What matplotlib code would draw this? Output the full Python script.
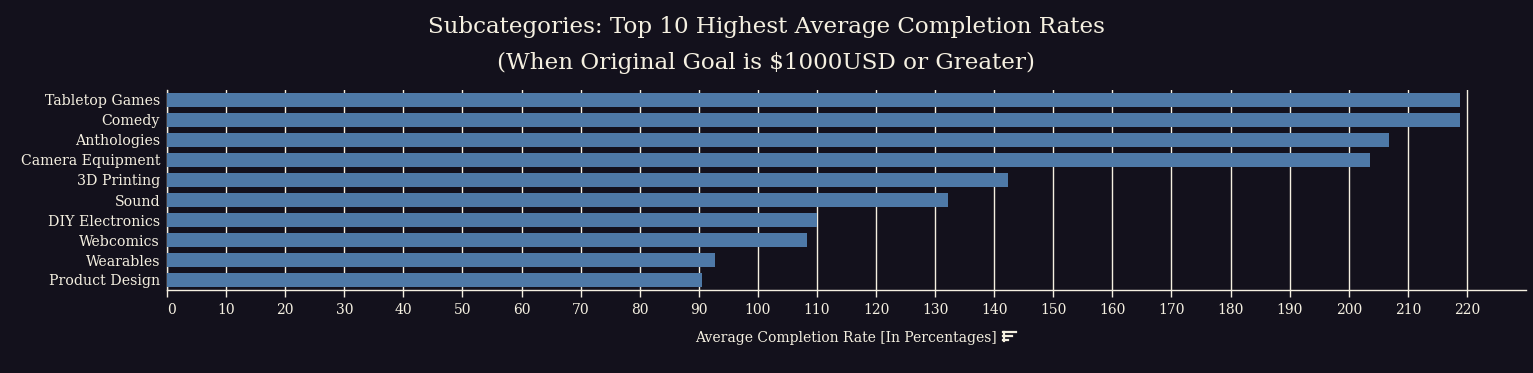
import matplotlib
matplotlib.use('Agg')
import matplotlib.pyplot as plt
import numpy as np

# data
subcategories = ['Tabletop Games', 'Comedy', 'Anthologies', 'Camera Equipment',
                 '3D Printing', 'Sound', 'DIY Electronics', 'Webcomics',
                 'Wearables', 'Product Design']
completion_rate = [218.8, 218.8, 206.8, 203.6, 142.3, 132.2, 110.0, 108.3, 92.7, 90.5]
x_ticks = list(range(0, 221, 10))

bg = '#13111c'
fg = '#f5f0e1'
bar_color = '#4e79a7'

plt.rcParams['font.family'] = ['DejaVu Serif']

fig = plt.figure(figsize=(15.33, 3.73), dpi=100, facecolor=bg)
ax = fig.add_axes([167/1533, 1 - 290/373, (1526 - 167)/1533, 200/373])
ax.set_facecolor(bg)

y = np.arange(len(subcategories))
ax.barh(y, completion_rate, height=0.73, color=bar_color, zorder=3)
ax.set_ylim(len(subcategories) - 0.5, -0.5)
ax.set_yticks(y)
ax.set_yticklabels(subcategories, fontsize=10.2, color=fg)
ax.set_xlim(0, 230)
ax.set_xticks(x_ticks)
ax.set_xticklabels([str(t) for t in x_ticks], fontsize=10, color=fg)
# first label sits flush with the axis start
ax.get_xticklabels()[0].set_horizontalalignment('left')

ax.tick_params(axis='y', length=0, pad=5)
ax.tick_params(axis='x', length=5, width=1, color=fg, pad=4)
ax.grid(axis='x', color=fg, linewidth=1, zorder=0)

for s in ['top', 'right']:
    ax.spines[s].set_visible(False)
for s in ['left', 'bottom']:
    ax.spines[s].set_color(fg)
    ax.spines[s].set_linewidth(1)

fig.text(846/1533, 1 - 338/373, 'Average Completion Rate [In Percentages]',
         fontsize=10, color=fg, ha='center', va='center')

# small sort icon next to the axis title
ix, iy = 1003/1533, 1 - 332/373
for k, w in enumerate([13, 9, 5]):
    fig.add_artist(plt.Line2D([ix, ix + w/1533], [iy - k*4/373, iy - k*4/373],
                              color=fg, linewidth=1.6, transform=fig.transFigure))
fig.add_artist(plt.Line2D([ix + 0.5/1533, ix + 0.5/1533], [iy, iy - 9/373],
                          color=fg, linewidth=1.6, transform=fig.transFigure))

fig.text(766/1533, 1 - 27/373, 'Subcategories: Top 10 Highest Average Completion Rates',
         fontsize=16.6, color=fg, ha='center', va='center')
fig.text(766/1533, 1 - 63/373, '(When Original Goal is $1000USD or Greater)',
         fontsize=16.6, color=fg, ha='center', va='center')

fig.savefig('out.png', dpi=100, facecolor=bg)
